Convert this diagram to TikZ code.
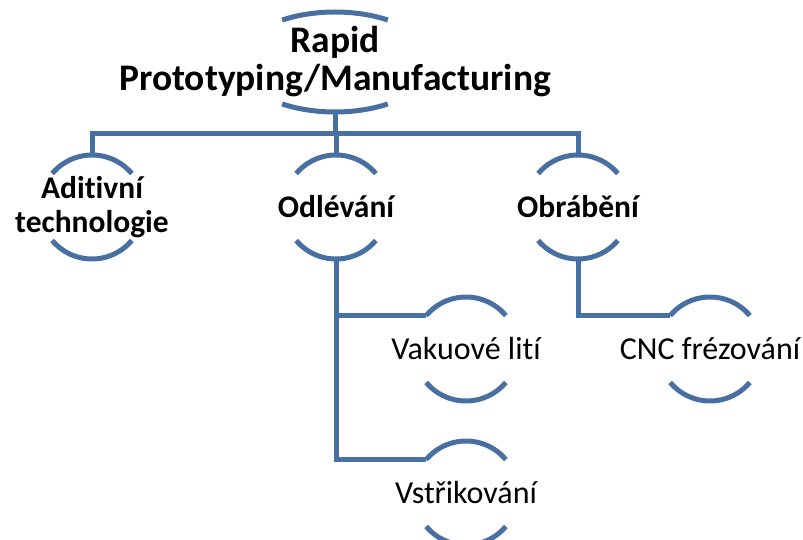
\documentclass[tikz,border=0pt]{standalone}
\usepackage{fontspec}
\setmainfont{Carlito}[Ligatures=CommonOff]
\usetikzlibrary{calc}
\definecolor{smblue}{RGB}{72,111,162}
\newcommand\caparcs[1]{%
  \draw[conn] (#1.40) arc[start angle=40, end angle=140, radius=52pt];
  \draw[conn] (#1.220) arc[start angle=220, end angle=320, radius=52pt];}

\begin{document}
\begin{tikzpicture}[x=1pt, y=1pt,
    conn/.style={line width=5pt, draw=smblue},
    item/.style={circle, minimum size=104pt, inner sep=0pt, outer sep=0pt},
    topfont/.style={font=\fontsize{37.5}{38}\selectfont\bfseries, align=center},
    midfont/.style={font=\fontsize{31.5}{34}\selectfont\bfseries, align=center},
    lowfont/.style={font=\fontsize{32}{34}\selectfont, align=center}]
  \clip (0,0) rectangle (803,539);

  %%%%% nodes %%%%%
  \node[topfont] (rp) at (335,477) {Rapid\\Prototyping/Manufacturing};

  \node[item, label={[midfont]center:{Aditivní\\technologie}}] (adi) at (92,332) {};
  \node[item, label={[midfont]center:Odlévání}] (odl) at (336,332) {};
  \node[item, label={[midfont]center:Obrábění}] (obr) at (578,332) {};

  \node[item, label={[lowfont]center:Vakuové lití}] (vak) at (466,190) {};
  \node[item, label={[lowfont]center:Vstřikování}] (vst) at (466,46) {};
  \node[item, label={[lowfont]center:CNC frézování}] (cnc) at (710,190) {};

  %%%%% arcs %%%%%
  \draw[conn] ($(rp.center)+(57:97pt and 50pt)$) arc[start angle=57, end angle=123, x radius=97pt, y radius=50pt];
  \draw[conn] ($(rp.center)+(237:97pt and 50pt)$) arc[start angle=237, end angle=303, x radius=97pt, y radius=50pt];
  \coordinate (rpbot) at ($(rp.center)+(0,-50)$);
  \caparcs{adi}
  \caparcs{odl}
  \caparcs{obr}
  \caparcs{vak}
  \caparcs{vst}
  \caparcs{cnc}

  %%%%% connectors %%%%%
  \coordinate (bar) at (0,405);
  \draw[conn] (rpbot) -- (rpbot |- bar);
  \draw[conn] (adi.north) -- (adi.north |- bar) -- (obr.north |- bar) -- (obr.north);
  \draw[conn] (odl.north) -- (odl.north |- bar);
  \draw[conn] (odl.south) |- (vak.140);
  \draw[conn] (odl.south) |- (vst.140);
  \draw[conn] (obr.south) |- (cnc.140);
\end{tikzpicture}
\end{document}
